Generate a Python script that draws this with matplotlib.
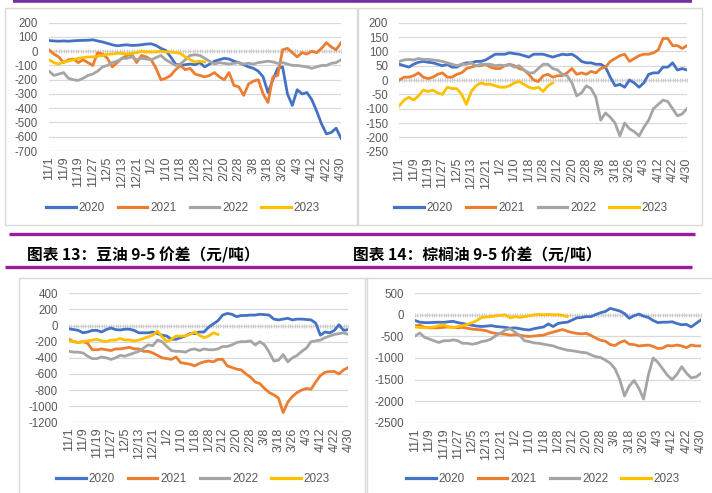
import numpy as np
import matplotlib
matplotlib.use("Agg")
import matplotlib.pyplot as plt
from matplotlib.patches import Rectangle
from matplotlib.lines import Line2D

plt.rcParams['font.family'] = ['Liberation Sans', 'Noto Sans CJK SC', 'DejaVu Sans']

W, H = 712, 493

# ---------------- data ----------------
x_labels = ['11/1', '11/9', '11/19', '11/27', '12/5', '12/13', '12/21', '1/2', '1/10', '1/18',
            '1/28', '2/12', '2/20', '2/28', '3/8', '3/18', '3/26', '4/3', '4/12', '4/22', '4/30']
years = ['2020', '2021', '2022', '2023']

# top-left chart
tl_2020 = [75, 72, 70, 72, 70, 73, 75, 76, 77, 80,
           72, 65, 55, 45, 38, 42, 45, 40, 42, 45,
           50, 52, 40, 20, 5, -40, -90, -100, -95, -90,
           -95, -80, -110, -90, -70, -60, -50, -55, -70, -80,
           -95, -110, -120, -140, -180, -290, -200, -120, -110, -300,
           -380, -270, -300, -290, -340, -420, -510, -580, -570, -540, -610]
tl_2021 = [10, -20, -40, -80, -60, -55, -80, -60, -80, -100,
           -10, -20, -50, -110, -80, -50, -30, -20, -80, -30,
           -40, -60, -120, -200, -190, -170, -130, -100, -130, -120,
           -160, -170, -180, -170, -150, -180, -200, -150, -240, -250,
           -310, -230, -210, -200, -300, -360, -180, -170, 10, 20,
           -10, -40, -10, -20, 0, -10, 20, 60, 30, 10, 60]
tl_2022 = [-140, -170, -160, -150, -190, -200, -205, -190, -170, -160,
           -140, -110, -100, -80, -70, -50, -50, -40, -60, -50,
           -55, -60, -45, -30, -60, -80, -100, -90, -60, -30,
           -25, -30, -50, -70, -90, -80, -85, -90, -85, -80,
           -90, -85, -90, -80, -75, -70, -75, -85, -80, -90,
           -100, -100, -105, -110, -120, -110, -100, -100, -85, -80, -60]
tl_2023 = [-60, -80, -90, -75, -70, -60, -50, -45, -40, -40,
           -35, -30, -20, -20, -15, -15, -20, -15, -10, 0,
           -5, -5, -5, 0, -5, -5, -10, -15, -40, -60,
           -75, -70, -75]

# top-right chart
tr_2020 = [55, 50, 45, 55, 62, 65, 62, 60, 55, 50,
           55, 45, 45, 55, 60, 60, 65, 65, 70, 80,
           90, 90, 90, 95, 92, 90, 85, 80, 90, 90,
           90, 85, 80, 85, 90, 88, 90, 80, 65, 60,
           60, 55, 55, 45, 10, -20, -15, -25, 0, -10,
           -25, -10, 20, 25, 25, 45, 45, 60, 35, 40, 35]
tr_2021 = [0, 10, 10, 15, 25, 10, 5, 10, 20, 25,
           10, 10, 20, 25, 40, 45, 50, 50, 55, 45,
           40, 40, 50, 55, 50, 40, 35, 20, 0, -5,
           15, 20, 10, 15, 15, 25, 40, 20, 25, 20,
           30, 25, 40, 45, 65, 75, 85, 90, 65, 75,
           85, 90, 90, 95, 105, 145, 145, 120, 120, 110, 120]
tr_2022 = [65, 70, 72, 70, 75, 72, 72, 70, 68, 65,
           60, 55, 50, 55, 55, 60, 50, 55, 55, 55,
           50, 52, 50, 55, 45, 50, 35, 25, 25, 40,
           55, 55, 40, 35, 20, 15, -10, -55, -45, -20,
           -30, -60, -140, -115, -130, -150, -195, -150, -170, -180,
           -195, -165, -140, -100, -85, -70, -75, -100, -125, -118, -100]
tr_2023 = [-90, -70, -60, -70, -55, -35, -40, -35, -45, -50,
           -25, -30, -30, -50, -85, -40, -20, -10, -15, -15,
           -20, -25, -25, -20, -10, -5, -15, -25, -30, -25,
           -40, -20, -10]

# bottom-left chart: soybean oil 9-5 spread
soy_2020 = [-40, -50, -60, -90, -80, -60, -60, -80, -50, -30,
            -50, -55, -45, -45, -60, -90, -90, -90, -80, -100,
            -120, -130, -170, -170, -150, -130, -100, -100, -80, -80,
            -20, 20, 60, 130, 150, 140, 110, 125, 125, 130,
            130, 140, 135, 130, 80, 70, 80, 90, 70, 80,
            80, 75, 70, 30, -120, -80, -90, -60, 10, -60, -50]
soy_2021 = [-170, -200, -210, -200, -220, -300, -300, -290, -300, -310,
            -290, -290, -280, -270, -290, -290, -320, -320, -340, -370,
            -400, -410, -420, -390, -460, -470, -480, -500, -470, -450,
            -440, -450, -420, -420, -500, -520, -540, -550, -600, -640,
            -700, -720, -780, -830, -860, -900, -1080, -950, -880, -830,
            -800, -780, -790, -700, -620, -580, -570, -570, -600, -550, -520]
soy_2022 = [-320, -330, -330, -340, -380, -410, -410, -390, -400, -420,
            -400, -370, -380, -360, -340, -320, -280, -240, -250, -180,
            -200, -260, -310, -320, -320, -330, -300, -290, -310, -290,
            -300, -300, -290, -260, -260, -240, -210, -200, -200, -190,
            -240, -200, -240, -330, -440, -430, -360, -450, -400, -370,
            -320, -280, -200, -190, -180, -150, -130, -110, -100, -90, -110]
soy_2023 = [-190, -200, -210, -200, -190, -180, -170, -190, -200, -180,
            -180, -160, -180, -180, -190, -180, -160, -140, -120, -70,
            -140, -200, -170, -130, -130, -130, -110, -80, -120, -150,
            -130, -90, -110]

# bottom-right chart: palm oil 9-5 spread
palm_2020 = [-130, -170, -180, -180, -175, -170, -175, -160, -150, -180,
             -200, -220, -240, -260, -270, -260, -250, -270, -280, -290,
             -310, -300, -320, -340, -350, -320, -300, -280, -210, -270,
             -200, -180, -170, -120, -70, -60, -40, -40, 10, 50,
             80, 150, 120, 90, 30, -80, -20, 20, -30, -60,
             -130, -180, -170, -170, -160, -200, -230, -220, -280, -200, -120]
palm_2021 = [-250, -240, -290, -300, -300, -300, -290, -280, -290, -300,
             -290, -310, -330, -340, -350, -370, -410, -430, -440, -450,
             -470, -460, -470, -490, -500, -490, -480, -470, -430, -400,
             -370, -340, -380, -410, -430, -440, -430, -480, -540, -590,
             -610, -690, -710, -640, -600, -680, -690, -720, -710, -700,
             -730, -780, -770, -710, -720, -700, -720, -760, -700, -720, -720]
palm_2022 = [-490, -420, -520, -560, -600, -640, -600, -600, -580, -600,
             -660, -660, -680, -660, -620, -600, -560, -480, -420, -350,
             -320, -400, -480, -600, -620, -650, -660, -680, -700, -720,
             -760, -790, -820, -830, -850, -870, -880, -930, -970, -990,
             -1050, -1120, -1250, -1500, -1880, -1650, -1520, -1700, -1950, -1400,
             -1000, -1100, -1250, -1400, -1500, -1380, -1200, -1350, -1460, -1440, -1360]
palm_2023 = [-280, -290, -300, -290, -280, -250, -230, -280, -300, -270,
             -250, -220, -180, -130, -60, -50, -40, -20, -10, 0,
             -70, -40, -60, -40, -20, 0, 10, 0, 10, 0,
             5, -10, -40]

captions = ['图表 13：豆油 9-5 价差（元/吨）', '图表 14：棕榈油 9-5 价差（元/吨）']

colors = ['#4472C4', '#ED7D31', '#A5A5A5', '#FFC000']
grid_c = '#D9D9D9'
text_c = '#595959'

fig = plt.figure(figsize=(W / 100, H / 100), dpi=100)


def fx(px):
    return px / W


def fy(py):
    return 1 - py / H


def add_box(x0, y0, x1, y1):
    fig.add_artist(Rectangle((fx(x0), fy(y1)), fx(x1) - fx(x0), fy(y0) - fy(y1),
                             transform=fig.transFigure, fill=False,
                             edgecolor=grid_c, lw=1.0))


def add_bar(x0, x1, y, color, lw):
    fig.add_artist(Line2D([fx(x0), fx(x1)], [fy(y), fy(y)], transform=fig.transFigure,
                          color=color, lw=lw, solid_capstyle='butt'))


# decorations
add_box(5, 8, 357, 225)
add_box(358, 8, 702, 225)
add_box(19, 278, 367, 500)
add_box(365, 278, 720, 500)
add_bar(13, 692, 1.2, '#7030A0', 2.6)
add_bar(9, 695, 234, '#9C1A9C', 2.4)
add_bar(5, 692, 267, '#9C1A9C', 2.4)
fig.text(fx(27), fy(255), captions[0], fontsize=11.3, fontweight='bold',
         family=['Noto Sans CJK SC', 'DejaVu Sans'], va='center', ha='left', color='black')
fig.text(fx(353), fy(255), captions[1], fontsize=11.3, fontweight='bold',
         family=['Noto Sans CJK SC', 'DejaVu Sans'], va='center', ha='left', color='black')

panels = [
    dict(rect=(49, 22.7, 341, 151), ylim=(-700, 200), step=100,
         series=[tl_2020, tl_2021, tl_2022, tl_2023], leg=(183, 208)),
    dict(rect=(399.3, 22.7, 687, 151.7), ylim=(-250, 200), step=50,
         series=[tr_2020, tr_2021, tr_2022, tr_2023], leg=(531, 208)),
    dict(rect=(69, 293.3, 348.3, 422.3), ylim=(-1200, 400), step=200,
         series=[soy_2020, soy_2021, soy_2022, soy_2023], leg=(193, 479)),
    dict(rect=(415, 293.3, 700.7, 422.7), ylim=(-2500, 500), step=500,
         series=[palm_2020, palm_2021, palm_2022, palm_2023], leg=(543, 479)),
]

n_full = 61
tick_pos = np.arange(0, n_full, 3)

for p in panels:
    x0, y0, x1, y1 = p['rect']
    ax = fig.add_axes([fx(x0), fy(y1), fx(x1) - fx(x0), fy(y0) - fy(y1)])
    ax.set_facecolor('none')
    lo, hi = p['ylim']
    yt = np.arange(lo, hi + 1, p['step'])
    for v in yt:
        ax.axhline(v, color=grid_c, lw=0.9, zorder=0)
    # category axis crossing at zero with dense tick marks
    ax.axhline(0, color=grid_c, lw=1.0, zorder=1)
    tk = np.arange(0, n_full - 0.9, 0.5)
    ax.plot(tk, np.zeros(len(tk)), ls='none', marker='|', ms=2.6, mew=0.6,
            color='#C8C8C8', zorder=1)
    for s, c, lab in zip(p['series'], colors, years):
        xs = np.arange(len(s))
        ax.plot(xs, s, color=c, lw=2.0, solid_joinstyle='round', zorder=3, label=lab)
    ax.set_xlim(0, n_full - 1)
    ax.set_ylim(lo, hi)
    ax.set_yticks(yt)
    ax.set_yticklabels([str(int(v)) for v in yt])
    ax.set_xticks(tick_pos)
    ax.set_xticklabels(x_labels, rotation=90)
    ax.tick_params(axis='both', length=0, labelcolor=text_c)
    ax.tick_params(axis='y', pad=8, labelsize=8.3)
    ax.tick_params(axis='x', pad=4, labelsize=9)
    for sp in ax.spines.values():
        sp.set_visible(False)
    lx, ly = p['leg']
    leg_handles = [Line2D([], [], color=c, lw=2.3) for c in colors]
    leg = ax.legend(leg_handles, years, loc='center', bbox_to_anchor=(fx(lx), fy(ly)),
                    bbox_transform=fig.transFigure, ncol=4, frameon=False,
                    handlelength=2.5, handletextpad=0.25, columnspacing=1.1, fontsize=8.5)
    for t in leg.get_texts():
        t.set_color(text_c)

fig.savefig('out.png', dpi=100)
